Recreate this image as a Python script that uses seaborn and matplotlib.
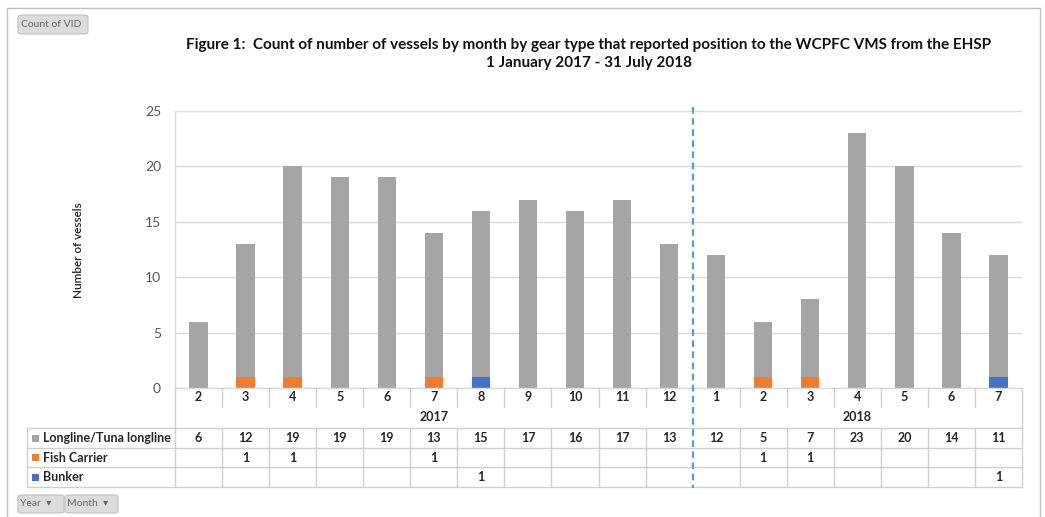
import numpy as np
import pandas as pd
import matplotlib
matplotlib.use("Agg")
import matplotlib.pyplot as plt
import seaborn as sns
from matplotlib.transforms import blended_transform_factory
from matplotlib.patches import FancyBboxPatch, Rectangle
from matplotlib.lines import Line2D

# ---------------- data ----------------
years = ["2017"] * 11 + ["2018"] * 7
months = [2, 3, 4, 5, 6, 7, 8, 9, 10, 11, 12, 1, 2, 3, 4, 5, 6, 7]
longline = [6, 12, 19, 19, 19, 13, 15, 17, 16, 17, 13, 12, 5, 7, 23, 20, 14, 11]
fish_carrier = [0, 1, 1, 0, 0, 1, 0, 0, 0, 0, 0, 0, 1, 1, 0, 0, 0, 0]
bunker = [0, 0, 0, 0, 0, 0, 1, 0, 0, 0, 0, 0, 0, 0, 0, 0, 0, 1]
series_names = ["Longline/Tuna longline", "Fish Carrier", "Bunker"]
series_colors = ["#A5A5A5", "#ED7D31", "#4472C4"]
year_labels = ["2017", "2018"]
y_ticks = [0, 5, 10, 15, 20, 25]
title_lines = ["Figure 1:  Count of number of vessels by month by gear type that reported position to the WCPFC VMS from the EHSP",
               "1 January 2017 - 31 July 2018"]

# ---------------- setup ----------------
sns.set_theme(style="white")
plt.rcParams["font.family"] = ["Lato", "DejaVu Sans"]

W, H = 1045, 517
fig = plt.figure(figsize=(W / 100, H / 100), dpi=100)

def fx(px):
    return px / W

def fy(py):
    return 1 - py / H

L, R, T, B = 175, 1022, 111, 388
ax = fig.add_axes([fx(L), fy(B), fx(R - L), (B - T) / H])

n = len(months)
pos = list(range(n))
all_series = [longline, fish_carrier, bunker]
df = pd.DataFrame({
    "pos": pos * 3,
    "gear": sum([[s] * n for s in series_names], []),
    "count": sum(all_series, []),
})

sns.histplot(data=df, x="pos", weights="count", hue="gear", hue_order=series_names,
             palette=dict(zip(series_names, series_colors)), multiple="stack",
             discrete=True, shrink=0.39, alpha=1, linewidth=0, legend=False, ax=ax)

ax.set_xlim(-0.5, n - 0.5)
ax.set_ylim(0, 25)
ax.set_yticks(y_ticks)
ax.set_yticklabels([str(t) for t in y_ticks], color="#595959", fontsize=10)
ax.tick_params(axis="y", length=0, pad=10)
ax.set_xticks([])
ax.set_xlabel("")
ax.set_ylabel("")
ax.grid(axis="y", color="#D9D9D9", linewidth=1)
ax.set_axisbelow(True)
for s in ["top", "right"]:
    ax.spines[s].set_visible(False)
for s in ["left", "bottom"]:
    ax.spines[s].set_color("#D9D9D9")
    ax.spines[s].set_linewidth(1)

fig.text(fx(78), fy(250), "Number of vessels", rotation=90, ha="center", va="center",
         fontsize=8.5, fontweight="semibold", color="#222222")

# title
fig.text(fx(589), fy(45), title_lines[0], ha="center", va="center", fontsize=11, fontweight="bold", color="#111111")
fig.text(fx(589), fy(63), title_lines[1], ha="center", va="center", fontsize=11, fontweight="bold", color="#111111")

# ---------------- data table ----------------
trans = blended_transform_factory(ax.transData, fig.transFigure)
grid_c = "#CFCFCF"

def hline(x0, x1, y):
    fig.add_artist(Line2D([fx(x0), fx(x1)], [fy(y), fy(y)], transform=fig.transFigure, color=grid_c, lw=1))

def vline_data(xd, y0, y1):
    fig.add_artist(Line2D([xd, xd], [fy(y0), fy(y1)], transform=trans, color=grid_c, lw=1))

row_y = [428, 448, 467, 487]
for y in row_y:
    hline(27, R, y)
fig.add_artist(Line2D([fx(27), fx(27)], [fy(428), fy(487)], transform=fig.transFigure, color=grid_c, lw=1))
fig.add_artist(Line2D([fx(L), fx(L)], [fy(388), fy(487)], transform=fig.transFigure, color=grid_c, lw=1))
vline_data(n - 0.5, 388, 487)
for i in range(1, n):
    xd = i - 0.5
    if i == 11:
        continue
    vline_data(xd, 388, 407)
    vline_data(xd, 428, 487)

tfs = 9
# month labels
for i, m in enumerate(months):
    ax.text(i, fy(397), str(m), transform=trans, ha="center", va="center", fontsize=tfs, fontweight="bold", color="#262626")

# year labels
for yl in year_labels:
    idx = [i for i, y in enumerate(years) if y == yl]
    ax.text((idx[0] + idx[-1]) / 2, fy(417), yl, transform=trans, ha="center", va="center",
            fontsize=tfs, fontweight="bold", color="#262626")

# rows
row_centers = [438, 457.5, 477]
for r, (name, col, vals) in enumerate(zip(series_names, series_colors, all_series)):
    yc = row_centers[r]
    fig.add_artist(Rectangle((fx(32), fy(yc + 3.5)), fx(7), 7 / H, transform=fig.transFigure,
                             facecolor=col, edgecolor="none"))
    fig.text(fx(43), fy(yc), name, ha="left", va="center", fontsize=tfs, fontweight="bold", color="#262626")
    for i, v in enumerate(vals):
        if v:
            ax.text(i, fy(yc), str(v), transform=trans, ha="center", va="center",
                    fontsize=tfs, fontweight="bold", color="#262626")

# dashed separator between years
fig.add_artist(Line2D([10.5, 10.5], [fy(107), fy(488)], transform=trans, color="#5B9BD5",
                      lw=1.6, linestyle=(0, (3, 2))))

# ---------------- buttons & frame ----------------
def button(x0, y0, x1, y1, label, tx):
    fig.add_artist(FancyBboxPatch((fx(x0), fy(y1)), fx(x1 - x0), (y1 - y0) / H,
                                  boxstyle="round,pad=0,rounding_size=0.004", transform=fig.transFigure,
                                  facecolor="#DCDCDC", edgecolor="#C0C0C0", lw=0.8))
    fig.text(fx(tx), fy((y0 + y1) / 2), label, ha="left", va="center", fontsize=7.5, color="#666666")

button(18, 15, 88, 34, "Count of VID", 21)
button(18, 495, 64, 513, "Year  \u25be", 20)
button(65, 495, 118, 513, "Month  \u25be", 67)

for xs, ys in [([7, 7], [8, 517]), ([7, 1040], [8, 8]), ([1040, 1040], [8, 517])]:
    fig.add_artist(Line2D([fx(x) for x in xs], [fy(y) for y in ys], transform=fig.transFigure,
                          color="#BFBFBF", lw=1))

fig.savefig("out.png", dpi=100)
